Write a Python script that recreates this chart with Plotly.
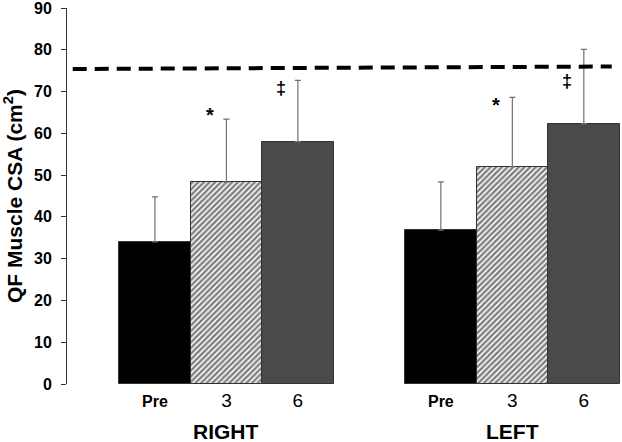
import plotly.graph_objects as go

groups = ["RIGHT", "LEFT"]
timepoints = ["Pre", "3", "6"]
right_means = [34.0, 48.3, 58.0]
right_sd = [10.8, 15.1, 14.7]
left_means = [36.8, 52.0, 62.3]
left_sd = [11.6, 16.6, 17.8]
reference_start, reference_end = 75.4, 76.0
sig_marks = ["", "*", "‡"]
sig_heights = {"RIGHT": [None, 64.4, 70.8], "LEFT": [None, 66.8, 72.6]}

x_pos = {"RIGHT": [0, 1, 2], "LEFT": [4, 5, 6]}
means = {"RIGHT": right_means, "LEFT": left_means}
sds = {"RIGHT": right_sd, "LEFT": left_sd}

FONT = "Liberation Sans, Arial"

styles = [
    dict(color="#000000", pattern=None),
    dict(color="#ffffff", pattern=dict(shape="/", fgcolor="#000000", bgcolor="#ffffff", size=4, solidity=0.62)),
    dict(color="#4a4a4a", pattern=None),
]

fig = go.Figure()
for i, tp in enumerate(timepoints):
    xs = [x_pos[g][i] for g in groups]
    ys = [means[g][i] for g in groups]
    es = [sds[g][i] for g in groups]
    marker = dict(color=styles[i]["color"], line=dict(color="#333333", width=1))
    if styles[i]["pattern"]:
        marker["pattern"] = styles[i]["pattern"]
    fig.add_trace(go.Bar(
        x=xs, y=ys, width=1.0, marker=marker, name=tp,
        error_y=dict(type="data", symmetric=False, array=es, arrayminus=[0] * len(es),
                     color="#707070", thickness=1.2, width=3),
        showlegend=False,
    ))

# reference dashed line
fig.add_trace(go.Scatter(
    x=[-1.15, 6.39], y=[reference_start, reference_end], mode="lines",
    line=dict(color="#000000", width=4, dash="14px,8px"), showlegend=False, hoverinfo="skip",
))

# significance markers
for g in groups:
    for i, m in enumerate(sig_marks):
        if not m:
            continue
        fig.add_annotation(
            x=x_pos[g][i] - 0.23, y=sig_heights[g][i], text="<b>%s</b>" % m, showarrow=False,
            xanchor="center", yanchor="middle",
            font=dict(size=(20 if m == "*" else 18), color="#000000", family=FONT),
        )

# group labels
for g in groups:
    fig.add_annotation(
        x=x_pos[g][1], y=0, xref="x", yref="paper", text="<b>%s</b>" % g, showarrow=False,
        yanchor="top", yshift=-34, font=dict(size=21, color="#000000", family=FONT),
    )

tickvals = x_pos["RIGHT"] + x_pos["LEFT"]
ticktext = []
for g in groups:
    for tp in timepoints:
        if tp == "Pre":
            ticktext.append("<b>Pre</b>")
        else:
            ticktext.append('<span style="font-size:19px">%s</span>' % tp)

fig.update_layout(
    width=622, height=442,
    margin=dict(l=67, r=1, t=8, b=58),
    plot_bgcolor="white", paper_bgcolor="white",
    bargap=0,
    font=dict(family=FONT, color="#000000"),
    xaxis=dict(range=[-1.23, 6.52], tickvals=tickvals, ticktext=ticktext,
               showgrid=False, zeroline=False, showline=False, ticks="",
               tickfont=dict(size=16, color="#000000", family=FONT), ticklabelstandoff=6),
    yaxis=dict(range=[0, 90], tick0=0, dtick=10, showgrid=False, zeroline=False,
               showline=True, linecolor="#333333", linewidth=1,
               ticks="outside", ticklen=5, tickcolor="#333333",
               tickfont=dict(size=16, color="#000000", family=FONT),
               tickprefix="<b>", ticksuffix="</b>", ticklabelstandoff=6,
               ticklabeloverflow="allow",
               title=dict(text="<b>QF Muscle CSA (cm<sup>2</sup>)</b>", font=dict(size=21, color="#000000", family=FONT), standoff=5)),
)

fig.write_html("out.html", config={"displayModeBar": False},
               post_script="document.body.style.margin='0px';")
